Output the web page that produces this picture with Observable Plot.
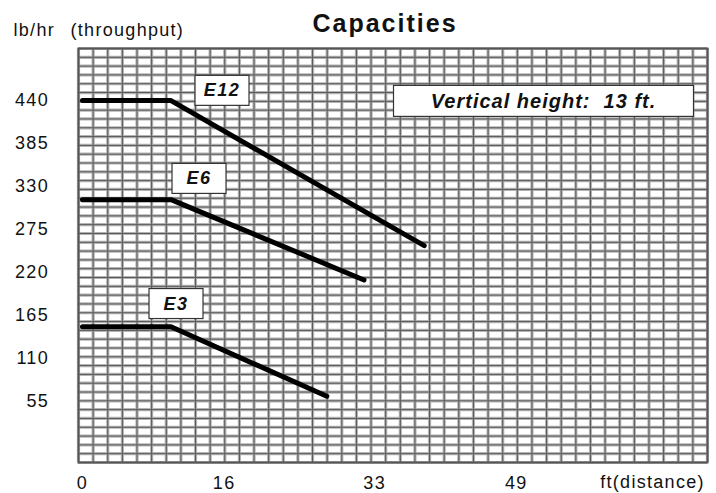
<!DOCTYPE html>
<html><head><meta charset="utf-8">
<script src="https://cdn.jsdelivr.net/npm/d3@7"></script>
<script src="https://cdn.jsdelivr.net/npm/@observablehq/plot@0.6"></script>
<style>body{margin:0;background:#fff} #chart{width:716px;height:493px}</style>
</head><body><div id="chart"></div>
<script>
// ---- data ----
const models = ["E12", "E6", "E3"];
const e12Distance = [0, 10, 38.6];
const e12Rate = [440, 440, 254];
const e6Distance = [0, 10, 31.8];
const e6Rate = [313, 313, 210];
const e3Distance = [0, 10, 27.6];
const e3Rate = [150, 150, 61];
const xTicks = [0, 16, 33, 49];
const yTicks = [55, 110, 165, 220, 275, 330, 385, 440];
const titleText = "Capacities";
const noteText = "Vertical height:  13 ft.";
const yUnit = "lb/hr";
const yName = "(throughput)";
const xName = "ft(distance)";

// ---- build tables ----
const series = [
  {model: models[0], dist: e12Distance, rate: e12Rate},
  {model: models[1], dist: e6Distance, rate: e6Rate},
  {model: models[2], dist: e3Distance, rate: e3Rate}
];
const rows = series.flatMap(s => s.dist.map((d, i) => ({model: s.model, distance: d, rate: s.rate[i]})));
const breaks = series.map(s => ({model: s.model, distance: s.dist[1], rate: s.rate[1]}));

const xDomain = [-0.45, 70.6];
const yDomain = [-24, 506.8];
const nCols = 43, nRows = 47;
const gridX = d3.range(nCols + 1).map(i => xDomain[0] + i * (xDomain[1] - xDomain[0]) / nCols);
const gridY = d3.range(nRows + 1).map(i => yDomain[0] + i * (yDomain[1] - yDomain[0]) / nRows);

const labelStyle = {text: "model", fontSize: 18, fontWeight: "bold", fontStyle: "italic", fill: "#111", lineAnchor: "middle", ariaDescription: "boxlabel"};

const chart = Plot.plot({
  width: 716, height: 493,
  marginLeft: 78, marginRight: 9, marginTop: 48, marginBottom: 31,
  x: {domain: xDomain},
  y: {domain: yDomain},
  style: {fontFamily: "'Liberation Sans', Arial, sans-serif", background: "#fff", color: "#111", letterSpacing: "1.3px", overflow: "visible"},
  marks: [
    Plot.frame({fill: "#fff"}),
    Plot.ruleX(gridX, {stroke: "#b4b4b4", strokeWidth: 3.2}),
    Plot.ruleY(gridY, {stroke: "#b4b4b4", strokeWidth: 3.2}),
    Plot.ruleX(gridX, {stroke: "#585858", strokeWidth: 1}),
    Plot.ruleY(gridY, {stroke: "#585858", strokeWidth: 1}),
    Plot.frame({stroke: "#555", strokeWidth: 2}),
    Plot.line(rows, {x: "distance", y: "rate", z: "model", stroke: "#000", strokeWidth: 5, strokeLinejoin: "miter"}),
    Plot.text(breaks.filter(d => d.model === "E12"), {x: "distance", y: "rate", dx: 51, dy: -10, ...labelStyle}),
    Plot.text(breaks.filter(d => d.model === "E6"), {x: "distance", y: "rate", dx: 28, dy: -21, ...labelStyle}),
    Plot.text(breaks.filter(d => d.model === "E3"), {x: "distance", y: "rate", dx: 5, dy: -23, ...labelStyle}),
    Plot.text([noteText], {text: d => d, frameAnchor: "top-right", dx: -164, dy: 53, textAnchor: "middle", lineAnchor: "middle", fontSize: 20, fontWeight: "bold", fontStyle: "italic", fill: "#111", ariaDescription: "notelabel"}),
    Plot.axisX(xTicks, {tickSize: 0, tickPadding: 14, fontSize: 18, label: null}),
    Plot.axisY(yTicks, {tickSize: 0, tickPadding: 29.5, fontSize: 18, label: null}),
    Plot.text([titleText], {text: d => d, frameAnchor: "top", dx: -8, dy: -25, lineAnchor: "middle", fontSize: 25, fontWeight: "bold", fill: "#111", ariaDescription: "title"}),
    Plot.text([yUnit], {text: d => d, frameAnchor: "top-left", dx: -65, dy: -18, textAnchor: "start", lineAnchor: "middle", fontSize: 18}),
    Plot.text([yName], {text: d => d, frameAnchor: "top-left", dx: -8, dy: -18, textAnchor: "start", lineAnchor: "middle", fontSize: 18}),
    Plot.text([xName], {text: d => d, frameAnchor: "bottom-right", dx: -55, dy: 20, textAnchor: "middle", lineAnchor: "middle", fontSize: 18})
  ]
});
document.getElementById("chart").appendChild(chart);

// letter spacing tweaks
chart.querySelectorAll('[aria-description="title"]').forEach(g => g.style.letterSpacing = "2px");
chart.querySelectorAll('[aria-description="boxlabel"]').forEach(g => g.style.letterSpacing = "1.5px");
chart.querySelectorAll('[aria-description="notelabel"]').forEach(g => { g.style.letterSpacing = "1px"; g.style.whiteSpace = "pre"; });

// white boxes behind the labels
function boxIt(sel, w, h) {
  chart.querySelectorAll(sel + " text").forEach(t => {
    const b = t.getBBox();
    const cx = b.x + b.width / 2, cy = b.y + b.height / 2;
    const r = document.createElementNS("http://www.w3.org/2000/svg", "rect");
    r.setAttribute("x", cx - w / 2);
    r.setAttribute("y", cy - h / 2);
    r.setAttribute("width", w);
    r.setAttribute("height", h);
    r.setAttribute("fill", "#fff");
    r.setAttribute("stroke", "#333");
    r.setAttribute("stroke-width", 1.2);
    const tr = t.getAttribute("transform");
    if (tr) r.setAttribute("transform", tr);
    t.parentNode.insertBefore(r, t);
  });
}
boxIt('[aria-description="boxlabel"]', 54, 30);
boxIt('[aria-description="notelabel"]', 300, 31);
</script>
</body></html>
